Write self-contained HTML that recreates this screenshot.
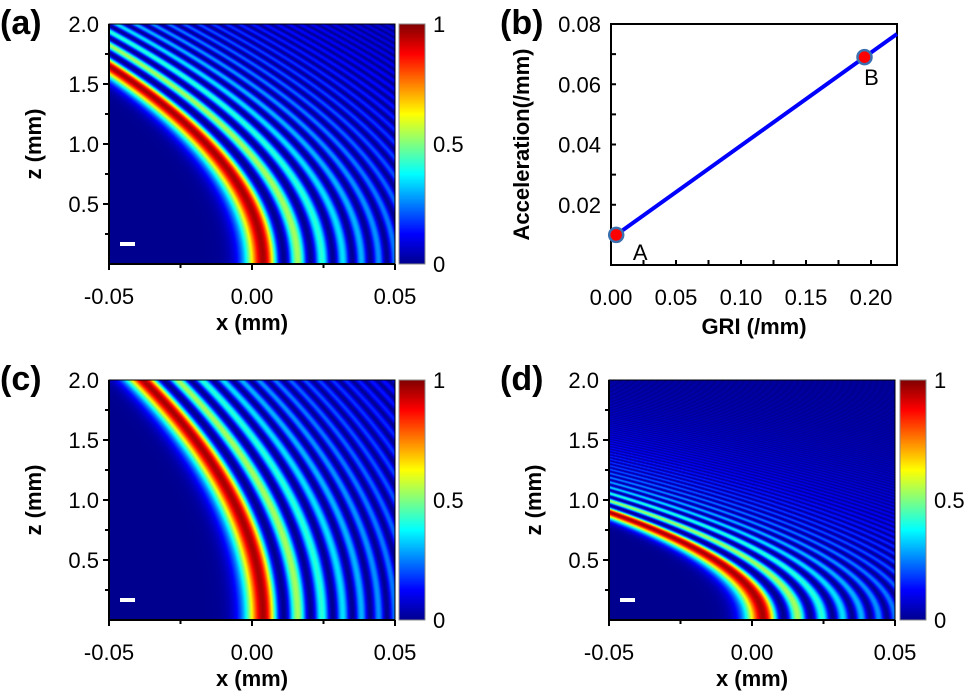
<!DOCTYPE html>
<html><head><meta charset="utf-8"><style>
body{margin:0;width:969px;height:692px;background:#fff;overflow:hidden;position:relative;font-family:"Liberation Sans",sans-serif}
canvas{position:absolute}
svg{position:absolute;left:0;top:0}
</style></head><body>
<canvas id="ca" width="286" height="240" style="left:109px;top:24px"></canvas>
<canvas id="cc" width="286" height="240" style="left:109px;top:380px"></canvas>
<canvas id="cd" width="286" height="240" style="left:609px;top:380px"></canvas>
<svg id="s" width="969" height="692">
<defs><linearGradient id="jet" x1="0" y1="1" x2="0" y2="0">
<stop offset="0" stop-color="#00008f"/><stop offset="0.125" stop-color="#0000ff"/><stop offset="0.375" stop-color="#00ffff"/><stop offset="0.625" stop-color="#ffff00"/><stop offset="0.875" stop-color="#ff0000"/><stop offset="1" stop-color="#800000"/></linearGradient></defs>
</svg>
<script>
// ---- panel (b) data ----
const griValues=[0.004,0.195];
const accelValues=[0.010,0.069];
const pointLabels=["A","B"];
const lineGri=[0.004,0.22];
const lineAccel=[0.010,0.0767];
const bXTicks=[0,0.05,0.10,0.15,0.20];
const bXTickLabels=["0.00","0.05","0.10","0.15","0.20"];
const bYTicks=[0.02,0.04,0.06,0.08];
const bYTickLabels=["0.02","0.04","0.06","0.08"];
// ---- heatmap params: beam start x (mm), curvature coef, lobe width ----
const beamX0=[0.004,0.004,0.004];
const beamCurv=[0.0198,0.0105,0.0667];
const beamWidth=[0.0054,0.0054,0.0054];
const zTicks=[0.5,1.0,1.5,2.0];
const zTickLabels=["0.5","1.0","1.5","2.0"];
const xTicks=[-0.05,0,0.05];
const xTickLabels=["-0.05","0.00","0.05"];
const cbTickLabels=["1","0.5","0"];

const NS="http://www.w3.org/2000/svg";
const svg=document.getElementById('s');
function el(t,a,txt){const e=document.createElementNS(NS,t);for(const k in a)e.setAttribute(k,a[k]);if(txt!==undefined)e.textContent=txt;svg.appendChild(e);return e;}

function airy(x){
  if(x>5){return Math.exp(-2/3*Math.pow(x,1.5))/(2*Math.sqrt(Math.PI)*Math.pow(x,0.25));}
  if(x<-7){const a=-x;return Math.pow(a,-0.25)/Math.sqrt(Math.PI)*Math.sin(2/3*Math.pow(a,1.5)+Math.PI/4);}
  let f=1,g=x,tf=1,tg=x;const x3=x*x*x;
  for(let k=1;k<60;k++){tf*=x3/((3*k-1)*(3*k));tg*=x3/((3*k)*(3*k+1));f+=tf;g+=tg;}
  return 0.355028053887817*f-0.258819403792807*g;
}
function jet(v){
  const stops=[[0,0,0,143],[0.125,0,0,255],[0.375,0,255,255],[0.625,255,255,0],[0.875,255,0,0],[1,128,0,0]];
  v=Math.max(0,Math.min(1,v));
  for(let i=1;i<stops.length;i++){if(v<=stops[i][0]){const a=stops[i-1],b=stops[i],t=(v-a[0])/(b[0]-a[0]);return [a[1]+t*(b[1]-a[1]),a[2]+t*(b[2]-a[2]),a[3]+t*(b[3]-a[3])];}}
  return [128,0,0];
}
function drawHeat(id,idx){
  const c=document.getElementById(id),ctx=c.getContext('2d'),W=c.width,H=c.height;
  const img=ctx.createImageData(W,H);const peak=0.2868;
  for(let py=0;py<H;py++){const z=2*(H-py-0.5)/H;const xc=beamX0[idx]-beamCurv[idx]*z*z;
    for(let px=0;px<W;px++){const x=-0.05+0.1*(px+0.5)/W;
      const arg=-(x-xc)/beamWidth[idx]-1.02;const a=airy(arg)*Math.exp(0.02*arg);
      const col=jet(a*a/peak);const o=(py*W+px)*4;img.data[o]=col[0];img.data[o+1]=col[1];img.data[o+2]=col[2];img.data[o+3]=255;}}
  ctx.putImageData(img,0,0);
}
drawHeat('ca',0);drawHeat('cc',1);drawHeat('cd',2);

function heatAxes(L,T,name,cbx){
  const W=286,H=240;
  const xs=v=>L+(v+0.05)/0.1*W, ys=v=>T+H-v/2*H;
  el('rect',{x:L,y:T,width:W,height:H,fill:'none',stroke:'#000','stroke-width':1,});
  el('line',{x1:L,y1:T,x2:L,y2:T+H,stroke:'#000','stroke-width':2});
  el('line',{x1:L,y1:T+H,x2:L+W,y2:T+H,stroke:'#000','stroke-width':2});
  for(let v=0.25;v<2;v+=0.25){const y=ys(v);el('line',{x1:L-(Math.abs(v*2-Math.round(v*2))<1e-6?6:4),y1:y,x2:L,y2:y,stroke:'#000','stroke-width':2});}
  zTicks.forEach((v,i)=>{el('text',{x:L-10,y:ys(v)+8,'text-anchor':'end','font-size':22,},zTickLabels[i]);});
  for(let v=-0.05;v<=0.0501;v+=0.025){const x=xs(v);el('line',{x1:x,y1:T+H,x2:x,y2:T+H+(Math.abs(v*20-Math.round(v*20))<1e-6?6:4),stroke:'#000','stroke-width':2});}
  xTicks.forEach((v,i)=>{el('text',{x:xs(v),y:T+H+40,'text-anchor':'middle','font-size':22,},xTickLabels[i]);});
  el('text',{x:L+W/2,y:T+H+66,'text-anchor':'middle','font-size':22,'font-weight':'bold',},'x (mm)');
  el('text',{x:0,y:0,transform:`translate(${L-68},${T+H/2}) rotate(-90)`,'text-anchor':'middle','font-size':22,'font-weight':'bold',},'z (mm)');
  el('rect',{x:L+11,y:T+H-22,width:15,height:4,fill:'#fff',});
  el('rect',{x:cbx,y:T,width:26,height:H,fill:'url(#jet)',stroke:'#888','stroke-width':1,});
  [T+8,T+H/2+8,T+H+8].forEach((y,i)=>el('text',{x:cbx+34,y:y,'font-size':22,},cbTickLabels[i]));
}
heatAxes(109,24,'panel-a',399);
heatAxes(109,380,'panel-c',399);
heatAxes(609,380,'panel-d',900);

// panel b
(function(){
  const L=611,T=24,W=286,H=241;
  const xs=v=>L+v/0.22*W, ys=v=>T+H-v/0.08*H;
  el('rect',{x:L,y:T,width:W,height:H,fill:'none',stroke:'#000','stroke-width':2,});
  for(let v=0.01;v<0.08;v+=0.01){const y=ys(v);el('line',{x1:L,y1:y,x2:L+5,y2:y,stroke:'#000','stroke-width':2});}
  for(let v=0.025;v<0.22;v+=0.025){const x=xs(v);el('line',{x1:x,y1:T+H,x2:x,y2:T+H-5,stroke:'#000','stroke-width':2});}
  bYTicks.forEach((v,i)=>el('text',{x:L-10,y:ys(v)+8,'text-anchor':'end','font-size':22,},bYTickLabels[i]));
  bXTicks.forEach((v,i)=>el('text',{x:xs(v),y:T+H+40,'text-anchor':'middle','font-size':22,},bXTickLabels[i]));
  el('text',{x:xs(0.11),y:T+H+69,'text-anchor':'middle','font-size':22,'font-weight':'bold',},'GRI (/mm)');
  el('text',{x:0,y:0,transform:`translate(${L-82},${T+H/2}) rotate(-90)`,'text-anchor':'middle','font-size':22,'font-weight':'bold',},'Acceleration(/mm)');
  el('line',{x1:xs(lineGri[0]),y1:ys(lineAccel[0]),x2:xs(lineGri[1]),y2:ys(lineAccel[1]),stroke:'#0000ff','stroke-width':4,});
  griValues.forEach((v,i)=>{
    el('circle',{cx:xs(v),cy:ys(accelValues[i]),r:7,fill:'#ff0000',stroke:'#3a6fb0','stroke-width':2.5,});
    el('text',{x:xs(v)+(i==0?24:7),y:ys(accelValues[i])+(i==0?25:28),'text-anchor':'middle','font-size':22,},pointLabels[i]);
  });
})();
[['(a)',0,34],['(b)',500,34],['(c)',0,390],['(d)',500,390]].forEach(p=>el('text',{x:p[1],y:p[2],'font-size':34,'font-weight':'bold',},p[0]));
</script>
</body></html>
